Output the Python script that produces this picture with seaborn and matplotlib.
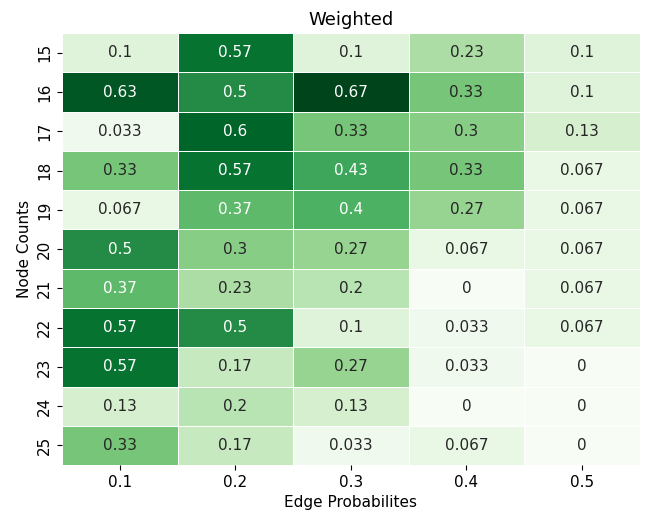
import numpy as np
import pandas as pd
import matplotlib
matplotlib.use("Agg")
import matplotlib.pyplot as plt
import seaborn as sns

# values
node_counts = [15, 16, 17, 18, 19, 20, 21, 22, 23, 24, 25]
edge_probs = [0.1, 0.2, 0.3, 0.4, 0.5]

p01 = [0.1, 0.63, 0.033, 0.33, 0.067, 0.5, 0.37, 0.57, 0.57, 0.13, 0.33]
p02 = [0.57, 0.5, 0.6, 0.57, 0.37, 0.3, 0.23, 0.5, 0.17, 0.2, 0.17]
p03 = [0.1, 0.67, 0.33, 0.43, 0.4, 0.27, 0.2, 0.1, 0.27, 0.13, 0.033]
p04 = [0.23, 0.33, 0.3, 0.33, 0.27, 0.067, 0, 0.033, 0.033, 0, 0.067]
p05 = [0.1, 0.1, 0.13, 0.067, 0.067, 0.067, 0.067, 0.067, 0, 0, 0]

df = pd.DataFrame({0.1: p01, 0.2: p02, 0.3: p03, 0.4: p04, 0.5: p05},
                  index=node_counts)

fig, ax = plt.subplots(figsize=(6.45, 5.19), dpi=100)
sns.heatmap(df, cmap="Greens", annot=True, fmt=".2g", linewidths=0.5,
            linecolor="white", cbar=False, ax=ax,
            annot_kws={"fontsize": 11})
ax.set_title("Weighted", fontsize=13)
ax.set_xlabel("Edge Probabilites", fontsize=11)
ax.set_ylabel("Node Counts", fontsize=11)
ax.tick_params(labelsize=11)
ax.set_yticklabels(node_counts, rotation=90, va="center")
fig.subplots_adjust(left=0.096, right=0.992, top=0.936, bottom=0.104)
plt.savefig("out.png", dpi=100)
